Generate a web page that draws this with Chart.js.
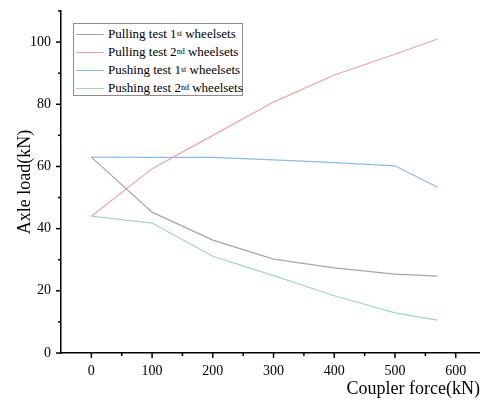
<!DOCTYPE html>
<html>
<head>
<meta charset="utf-8">
<script src="https://cdn.jsdelivr.net/npm/chart.js@4.4.1/dist/chart.umd.min.js"></script>
<style>
  html, body { margin: 0; padding: 0; background: #fff; }
  #wrap { position: relative; width: 480px; height: 400px; }
  #legend {
    position: absolute; left: 73px; top: 23px; width: 170px; height: 73px;
    box-sizing: border-box; border: 1px solid #8c8c8c; background: #fff;
    font-family: "Liberation Serif", "Times New Roman", serif; font-size: 13px; color: #000;
    padding-top: 1px;
  }
  .row { height: 18px; display: flex; align-items: center; white-space: nowrap; }
  .swatch { width: 28px; height: 0; border-top: 1px solid; margin-left: 2px; margin-right: 4px; flex: none; }
  sup { font-size: 8px; line-height: 0; vertical-align: 5px; }
</style>
</head>
<body>
<div id="wrap">
  <canvas id="chart" width="480" height="400"></canvas>
  <div id="legend">
    <div class="row"><span class="swatch" style="border-color:#a6a6a6"></span>Pulling test 1<sup>st</sup>&nbsp;wheelsets</div>
    <div class="row"><span class="swatch" style="border-color:#f2a3a3"></span>Pulling test 2<sup>nd</sup>&nbsp;wheelsets</div>
    <div class="row"><span class="swatch" style="border-color:#8cbbe8"></span>Pushing test 1<sup>st</sup>&nbsp;wheelsets</div>
    <div class="row"><span class="swatch" style="border-color:#9ed9bd"></span>Pushing test 2<sup>nd</sup>&nbsp;wheelsets</div>
  </div>
</div>
<script>
// valeurs
const forces = [0, 100, 200, 300, 400, 500, 570];
const pull1 = [63, 45.3, 36.3, 30.2, 27.4, 25.4, 24.7];
const pull2 = [44, 59.3, 70, 80.7, 89.4, 96.1, 101];
const push1 = [63, 62.9, 62.9, 62.1, 61.2, 60.2, 53.3];
const push2 = [44, 41.8, 31.1, 24.9, 18.4, 12.9, 10.6];

const xTicks = [0, 100, 200, 300, 400, 500, 600];
const yTicks = [0, 20, 40, 60, 80, 100];
const xMinor = [50, 150, 250, 350, 450, 550];
const yMinor = [10, 30, 50, 70, 90, 110];

const serif = '"Liberation Serif", "Times New Roman", serif';

function serie(valeurs) {
  return forces.map((f, i) => ({ x: f, y: valeurs[i] }));
}

// petites marques des axes (vers l'exterieur)
const marques = {
  id: 'marques',
  afterDraw(chart) {
    const { ctx, chartArea, scales } = chart;
    ctx.save();
    ctx.strokeStyle = '#000';
    ctx.lineWidth = 1.5;
    const b = chartArea.bottom, l = chartArea.left;
    const trait = (x1, y1, x2, y2) => { ctx.beginPath(); ctx.moveTo(x1, y1); ctx.lineTo(x2, y2); ctx.stroke(); };
    xTicks.forEach(v => { const px = scales.x.getPixelForValue(v); trait(px, b, px, b + 5); });
    xMinor.forEach(v => { const px = scales.x.getPixelForValue(v); trait(px, b, px, b + 3); });
    yTicks.forEach(v => { const py = scales.y.getPixelForValue(v); trait(l, py, l - 5, py); });
    yMinor.forEach(v => { const py = scales.y.getPixelForValue(v); trait(l, py, l - 3, py); });
    ctx.restore();
  }
};

const ctx = document.getElementById('chart').getContext('2d');
new Chart(ctx, {
  type: 'line',
  data: {
    datasets: [
      { label: 'Pulling test 1st wheelsets', data: serie(pull1), borderColor: '#a6a6a6' },
      { label: 'Pulling test 2nd wheelsets', data: serie(pull2), borderColor: '#f2a3a3' },
      { label: 'Pushing test 1st wheelsets', data: serie(push1), borderColor: '#8cbbe8' },
      { label: 'Pushing test 2nd wheelsets', data: serie(push2), borderColor: '#9ed9bd' }
    ]
  },
  options: {
    responsive: false,
    animation: false,
    layout: { padding: { top: 11, right: 0, left: 0, bottom: 0 } },
    elements: { point: { radius: 0 }, line: { borderWidth: 1.2, tension: 0 } },
    plugins: { legend: { display: false }, tooltip: { enabled: false } },
    scales: {
      x: {
        type: 'linear', min: -50, max: 640,
        afterBuildTicks: s => { s.ticks = xTicks.map(v => ({ value: v })); },
        afterFit: s => { s.height = 47; s.paddingLeft = 0; s.paddingRight = 0; },
        grid: { display: false, drawTicks: false },
        border: { display: true, color: '#000', width: 1.5 },
        ticks: { color: '#000', font: { family: serif, size: 14 }, padding: 10 },
        title: { display: true, text: 'Coupler force(kN)', align: 'end', color: '#000',
                 font: { family: serif, size: 18 }, padding: { top: 0, bottom: 0 } }
      },
      y: {
        min: 0, max: 110,
        afterBuildTicks: s => { s.ticks = yTicks.map(v => ({ value: v })); },
        afterFit: s => { s.width = 61; s.paddingTop = 0; s.paddingBottom = 0; },
        grid: { display: false, drawTicks: false },
        border: { display: true, color: '#000', width: 1.5 },
        ticks: { color: '#000', font: { family: serif, size: 14 }, padding: 10 },
        title: { display: true, text: 'Axle load(kN)', color: '#000',
                 font: { family: serif, size: 18 }, padding: { top: 14, bottom: 0 } }
      }
    }
  },
  plugins: [marques]
});
</script>
</body>
</html>
